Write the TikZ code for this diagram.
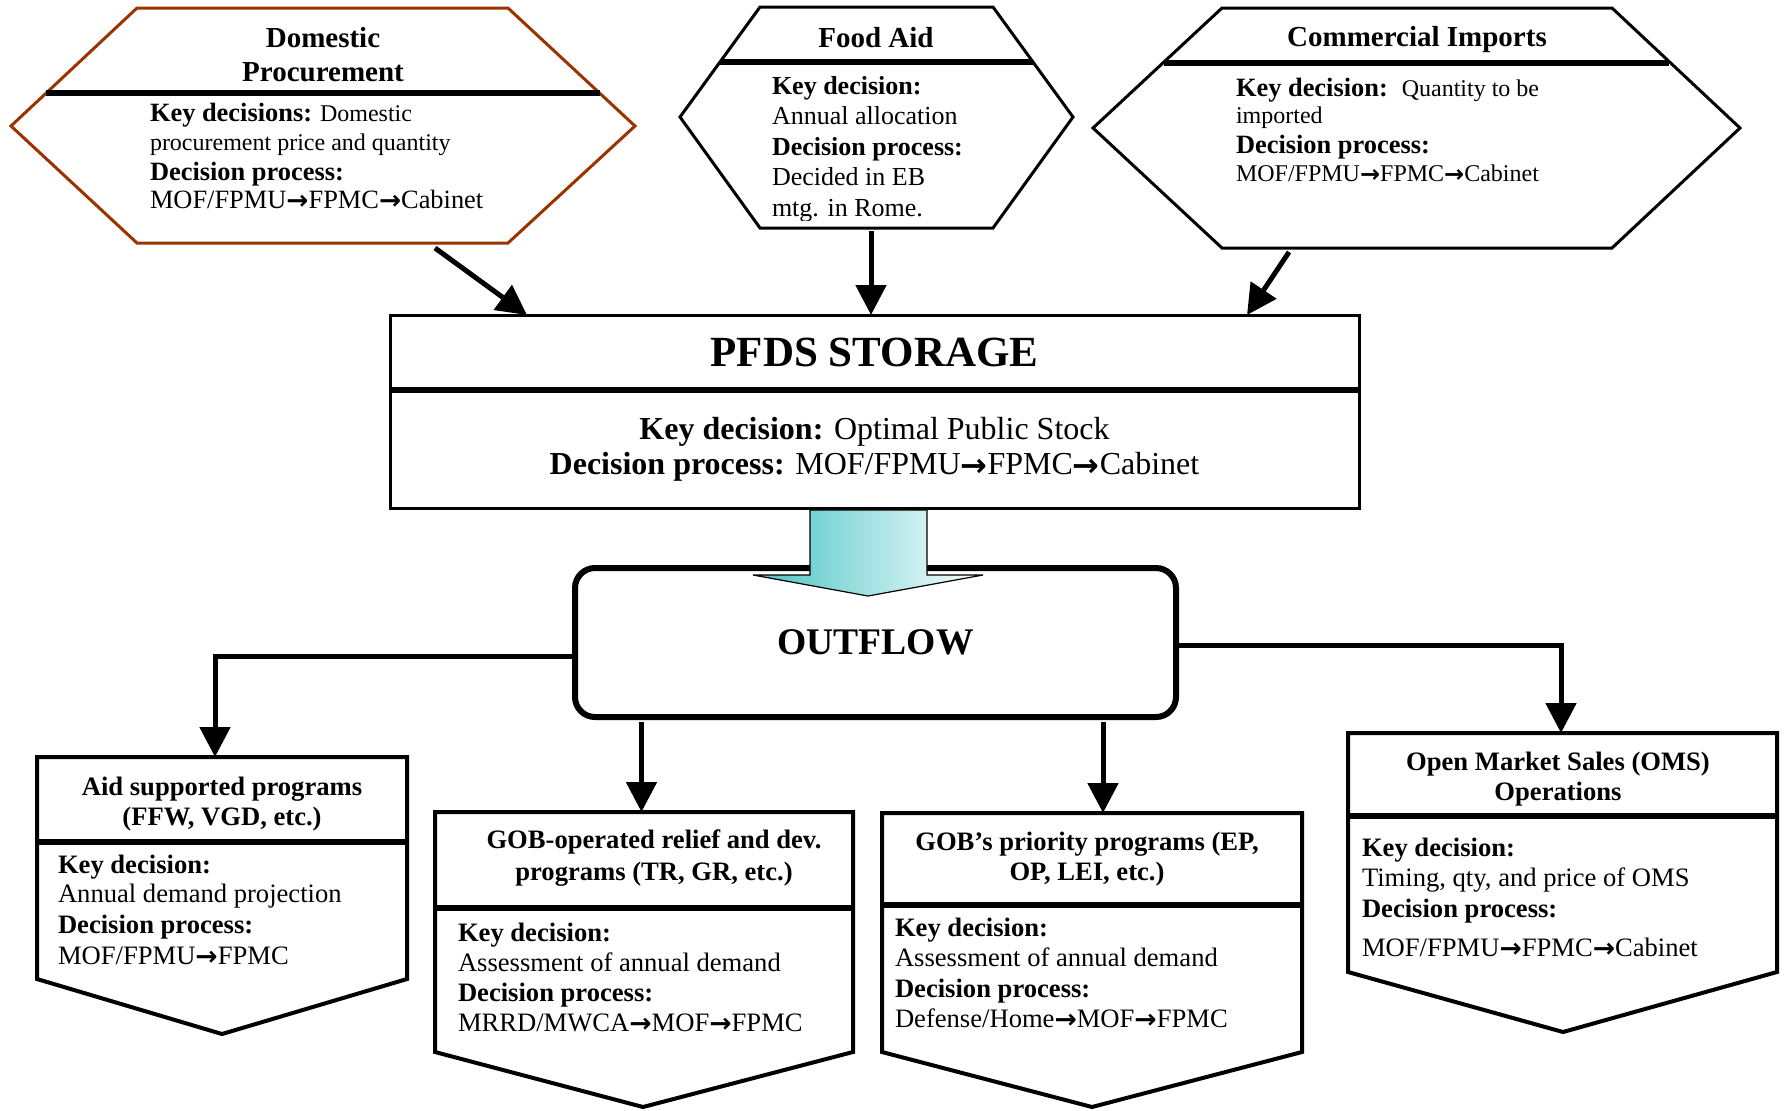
\documentclass[tikz,border=0pt]{standalone}
\usepackage{fontspec}
\setmainfont{Liberation Serif}
\newfontfamily\arrfont{DejaVu Sans}
\usetikzlibrary{arrows.meta,calc}
\definecolor{brownc}{RGB}{153,51,0}
\definecolor{tealc}{RGB}{72,196,196}
\newcommand\rarr{\raisebox{-0.07em}{\arrfont\bfseries →}}
\newcommand\hbold[1]{{\fontsize{13.2}{15}\selectfont\bfseries #1}}
\begin{document}
\begin{tikzpicture}[x=0.5pt,y=-0.5pt,
  every node/.style={inner sep=0pt, outer sep=0pt},
  hexline/.style={line width=1.5pt, line join=miter},
  divline/.style={line width=3pt},
  flowarr/.style={line width=2.5pt, -{Triangle[length=15pt,width=15pt]}},
  progline/.style={line width=2pt, line join=miter},
  htitle/.style={font=\bfseries\fontsize{14.5}{17}\selectfont, anchor=base},
  hbody/.style={font=\fontsize{12}{14}\selectfont, anchor=base west},
  fbody/.style={font=\fontsize{13}{15}\selectfont, anchor=base west},
  ptitle/.style={font=\bfseries\fontsize{13.3}{15}\selectfont, anchor=base},
  pbody/.style={font=\fontsize{13.3}{15}\selectfont, anchor=base west},
]
\useasboundingbox (0,0) rectangle (1784,1110);

% ---------- Domestic Procurement ----------
\draw[hexline, draw=brownc] (137,8) -- (508,8) -- (635,126) -- (508,243) -- (137,243) -- (11,126) -- cycle;
\draw[divline] (46,93) -- (600,93);
\node[htitle] (dpt1) at (323,47.5) {Domestic};
\node[htitle] (dpt2) at (323,81.5) {Procurement};
\node[hbody] (dpb1) at (150,121) {\hbold{Key decisions:} Domestic};
\node[hbody] (dpb2) at (150,150) {procurement price and quantity};
\node[hbody] (dpb3) at (150,180) {\hbold{Decision process:}};
\node[hbody, font=\fontsize{13.2}{15}\selectfont] (dpb4) at (150,208) {MOF/FPMU\rarr FPMC\rarr Cabinet};
\coordinate (dpout) at (435,248);

% ---------- Food Aid ----------
\draw[hexline] (760,7) -- (993,7) -- (1073,117) -- (993,228) -- (760,228) -- (680,117) -- cycle;
\draw[divline] (720,62) -- (1033,62);
\node[htitle] (fat) at (876,47) {Food Aid};
\begin{scope}
\clip (680,0) rectangle (1073,220);
\node[fbody] (fab1) at (772,94) {\textbf{Key decision:}};
\node[fbody] (fab2) at (772,124) {Annual allocation};
\node[fbody] (fab3) at (772,155) {\textbf{Decision process:}};
\node[fbody] (fab4) at (772,185) {Decided in EB};
\node[fbody] (fab5) at (772,216) {mtg. in Rome.};
\end{scope}
\coordinate (faout) at (871,231);

% ---------- Commercial Imports ----------
\draw[hexline] (1222,8) -- (1612,8) -- (1740,128) -- (1612,248) -- (1222,248) -- (1093,128) -- cycle;
\draw[divline] (1164,63) -- (1669,63);
\node[htitle] (cit) at (1417,46.5) {Commercial Imports};
\node[hbody] (cib1) at (1236,96) {\hbold{Key decision:}~ Quantity to be};
\node[hbody] (cib2) at (1236,123) {imported};
\node[hbody] (cib3) at (1236,153) {\hbold{Decision process:}};
\node[hbody] (cib4) at (1236,181) {MOF/FPMU\rarr FPMC\rarr Cabinet};
\coordinate (ciout) at (1289,252);

% ---------- PFDS Storage ----------
\node[draw, line width=1.5pt, minimum width=484.5pt, minimum height=96.5pt] (pfds) at (874.5,411.5) {};
\coordinate (pdiv) at (0,390);
\draw[divline] (pfds.west |- pdiv) -- (pfds.east |- pdiv);
\node[font=\bfseries\fontsize{21.5}{25}\selectfont, anchor=base] (pfdst) at (874.5,366.5) {PFDS STORAGE};
\node[font=\fontsize{16}{19}\selectfont, anchor=base] (pfdsb1) at (874.5,439) {\textbf{Key decision:} Optimal Public Stock};
\node[font=\fontsize{16}{19}\selectfont, anchor=base] (pfdsb2) at (874.5,474) {\textbf{Decision process:} MOF/FPMU\rarr FPMC\rarr Cabinet};

\coordinate (dpin) at ($(pfds.north west)+(137,0)$);
\coordinate (ciin) at ($(pfds.north west)+(857,0)$);
\draw[flowarr] (dpout) -- (dpin);
\draw[flowarr] (faout) -- (faout |- pfds.north);
\draw[flowarr] (ciout) -- (ciin);

% ---------- Outflow ----------
\node[draw, line width=3pt, rounded corners=10pt, minimum width=300.5pt, minimum height=74.5pt,
      font=\bfseries\fontsize{18.8}{22}\selectfont] (outflow) at (875.5,642.5) {OUTFLOW};
\path[draw=black, line width=0.6pt, left color=tealc, right color=white]
  (810,510) -- (927,510) -- (927,575) -- (983,575) -- (868,596) -- (753,575) -- (810,575) -- cycle;

% ---------- Bottom program boxes ----------
\draw[progline] (37,757) -- (407,757) -- (407,979) -- (222,1034) -- (37,979) -- cycle;
\draw[divline] (37,842) -- (407,842);
\node[ptitle] (ait1) at (222,795.5) {Aid supported programs};
\node[ptitle] (ait2) at (222,825.5) {(FFW, VGD, etc.)};
\node[pbody] (aib1) at (58,873) {\textbf{Key decision:}};
\node[pbody] (aib2) at (58,902) {Annual demand projection};
\node[pbody] (aib3) at (58,933) {\textbf{Decision process:}};
\node[pbody] (aib4) at (58,964) {MOF/FPMU\rarr FPMC};
\coordinate (aidin) at (215,757);

\draw[progline] (435,812) -- (853,812) -- (853,1052) -- (643,1107) -- (435,1052) -- cycle;
\draw[divline] (435,908) -- (853,908);
\node[ptitle] (got1) at (654,848.5) {GOB-operated relief and dev.};
\node[ptitle] (got2) at (654,880.5) {programs (TR, GR, etc.)};
\node[pbody] (gob1) at (458,941) {\textbf{Key decision:}};
\node[pbody] (gob2) at (458,971) {Assessment of annual demand};
\node[pbody] (gob3) at (458,1001) {\textbf{Decision process:}};
\node[pbody] (gob4) at (458,1031) {MRRD/MWCA\rarr MOF\rarr FPMC};
\coordinate (gopin) at (641.5,812);

\draw[progline] (882,813) -- (1302,813) -- (1302,1052) -- (1092,1107) -- (882,1052) -- cycle;
\draw[divline] (882,905) -- (1302,905);
\node[ptitle] (gpt1) at (1087,850.5) {GOB’s priority programs (EP,};
\node[ptitle] (gpt2) at (1087,880.5) {OP, LEI, etc.)};
\node[pbody] (gpb1) at (895,936) {\textbf{Key decision:}};
\node[pbody] (gpb2) at (895,966) {Assessment of annual demand};
\node[pbody] (gpb3) at (895,997) {\textbf{Decision process:}};
\node[pbody] (gpb4) at (895,1027) {Defense/Home\rarr MOF\rarr FPMC};
\coordinate (gprin) at (1103,813);

\draw[progline] (1348,733) -- (1777,733) -- (1777,972) -- (1563,1032) -- (1348,972) -- cycle;
\draw[divline] (1348,816) -- (1777,816);
\node[ptitle] (omt1) at (1558,770.5) {Open Market Sales (OMS)};
\node[ptitle] (omt2) at (1558,800.5) {Operations};
\node[pbody] (omb1) at (1362,856) {\textbf{Key decision:}};
\node[pbody] (omb2) at (1362,886) {Timing, qty, and price of OMS};
\node[pbody] (omb3) at (1362,917) {\textbf{Decision process:}};
\node[pbody] (omb4) at (1362,956) {MOF/FPMU\rarr FPMC\rarr Cabinet};
\coordinate (omsin) at (1561,733);

% ---------- Outflow connectors ----------
\draw[flowarr] ($(outflow.west)+(0,13.5)$) -| (aidin);
\draw[flowarr] ($(gopin |- outflow.south)+(0,5)$) -- (gopin);
\draw[flowarr] ($(gprin |- outflow.south)+(0,5)$) -- (gprin);
\draw[flowarr] ($(outflow.east)+(0,2.5)$) -| (omsin);
\end{tikzpicture}
\end{document}
